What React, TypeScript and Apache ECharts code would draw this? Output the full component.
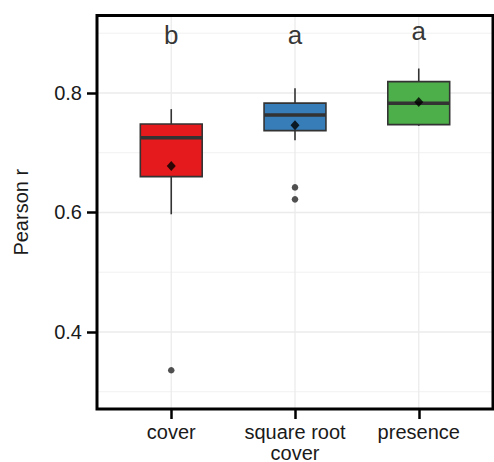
import React, { useEffect, useRef } from "react";
import * as echarts from "echarts";

const categories = ["cover", "square root\ncover", "presence"];
const boxMin = [0.597, 0.721, 0.745];
const boxQ1 = [0.66, 0.737, 0.747];
const boxMedian = [0.725, 0.763, 0.783];
const boxQ3 = [0.748, 0.783, 0.819];
const boxMax = [0.773, 0.808, 0.841];
const means = [0.678, 0.746, 0.785];
const outliers: [number, number][] = [
  [1, 0.336],
  [2, 0.642],
  [2, 0.622],
];
const letters = ["b", "a", "a"];
const letterY = [0.897, 0.897, 0.904];
const boxColors = ["#E41A1C", "#377EB8", "#4DAF4A"];
const yTicks = [0.4, 0.6, 0.8];
const yMinorGrid = [0.3, 0.5, 0.7, 0.9];
const xPositions = [1, 2, 3];

const Y_MIN = 0.2711;
const Y_MAX = 0.9297;
const X_MIN = 0.4;
const X_MAX = 3.6;

export default function App() {
  const ref = useRef<HTMLDivElement>(null);
  useEffect(() => {
    if (!ref.current) return;
    const chart = echarts.init(ref.current, null, { renderer: "svg" });

    const gridData: any[] = [
      ...yTicks.map((v) => [v, 0, 1.3]),
      ...yMinorGrid.map((v) => [v, 0, 0.7]),
      ...xPositions.map((v) => [v, 1, 1.3]),
    ];

    const boxData = xPositions.map((x, i) => [
      x,
      boxMin[i],
      boxQ1[i],
      boxMedian[i],
      boxQ3[i],
      boxMax[i],
      i,
    ]);

    const option: any = {
      animation: false,
      grid: {
        left: 97,
        right: 1,
        top: 15.5,
        bottom: 53,
        containLabel: false,
        outerBoundsMode: "none",
      },
      xAxis: {
        type: "value",
        min: X_MIN,
        max: X_MAX,
        axisLine: { show: false },
        splitLine: { show: false },
        axisTick: {
          show: true,
          customValues: xPositions,
          length: 10,
          lineStyle: { color: "#000", width: 2.5 },
        },
        axisLabel: {
          customValues: xPositions,
          formatter: (v: number) => categories[Math.round(v) - 1] ?? "",
          fontFamily: "Liberation Sans, Arial, sans-serif",
          fontSize: 20,
          lineHeight: 21,
          color: "#1a1a1a",
          margin: 12,
        },
      },
      yAxis: {
        type: "value",
        min: Y_MIN,
        max: Y_MAX,
        name: "Pearson r",
        nameLocation: "middle",
        nameGap: 66,
        nameTextStyle: {
          fontFamily: "Liberation Sans, Arial, sans-serif",
          fontSize: 20,
          color: "#1a1a1a",
        },
        axisLine: { show: false },
        splitLine: { show: false },
        axisTick: {
          show: true,
          customValues: yTicks,
          length: 10,
          lineStyle: { color: "#000", width: 2.5 },
        },
        axisLabel: {
          customValues: yTicks,
          formatter: (v: number) => v.toFixed(1),
          fontFamily: "Liberation Sans, Arial, sans-serif",
          fontSize: 20,
          color: "#1a1a1a",
          margin: 15,
        },
      },
      graphic: [
        {
          type: "rect",
          shape: { x: 97, y: 15.5, width: 396, height: 393.5 },
          style: { fill: "none", stroke: "#000", lineWidth: 3 },
          z: 100,
          silent: true,
        },
      ],
      series: [
        {
          type: "custom",
          z: 1,
          silent: true,
          data: gridData,
          renderItem: (params: any, api: any) => {
            const v = api.value(0);
            const dir = api.value(1);
            const w = api.value(2);
            let p1, p2;
            if (dir === 0) {
              p1 = api.coord([X_MIN, v]);
              p2 = api.coord([X_MAX, v]);
            } else {
              p1 = api.coord([v, Y_MIN]);
              p2 = api.coord([v, Y_MAX]);
            }
            return {
              type: "line",
              shape: { x1: p1[0], y1: p1[1], x2: p2[0], y2: p2[1] },
              style: { stroke: "#EBEBEB", lineWidth: w },
            };
          },
        },
        {
          type: "custom",
          z: 3,
          silent: true,
          data: boxData,
          renderItem: (params: any, api: any) => {
            const x = api.value(0);
            const idx = api.value(6);
            const half = api.size([0.25, 0])[0];
            const pMin = api.coord([x, api.value(1)]);
            const pQ1 = api.coord([x, api.value(2)]);
            const pMed = api.coord([x, api.value(3)]);
            const pQ3 = api.coord([x, api.value(4)]);
            const pMax = api.coord([x, api.value(5)]);
            const cx = pMed[0];
            const stroke = "#333333";
            return {
              type: "group",
              children: [
                {
                  type: "line",
                  shape: { x1: cx, y1: pQ3[1], x2: cx, y2: pMax[1] },
                  style: { stroke, lineWidth: 1.6 },
                },
                {
                  type: "line",
                  shape: { x1: cx, y1: pQ1[1], x2: cx, y2: pMin[1] },
                  style: { stroke, lineWidth: 1.6 },
                },
                {
                  type: "rect",
                  shape: {
                    x: cx - half,
                    y: pQ3[1],
                    width: half * 2,
                    height: pQ1[1] - pQ3[1],
                  },
                  style: { fill: boxColors[idx], stroke, lineWidth: 1.6 },
                },
                {
                  type: "line",
                  shape: { x1: cx - half, y1: pMed[1], x2: cx + half, y2: pMed[1] },
                  style: { stroke, lineWidth: 3.5 },
                },
              ],
            };
          },
        },
        {
          type: "scatter",
          z: 4,
          silent: true,
          symbol: "circle",
          symbolSize: 6.5,
          itemStyle: { color: "#262626" },
          data: outliers,
        },
        {
          type: "scatter",
          z: 5,
          silent: true,
          symbol: "diamond",
          symbolSize: [9, 10],
          itemStyle: { color: "#000" },
          data: xPositions.map((x, i) => [x, means[i]]),
        },
        {
          type: "scatter",
          z: 6,
          silent: true,
          symbolSize: 0,
          data: xPositions.map((x, i) => [x, letterY[i], letters[i]]),
          label: {
            show: true,
            position: "inside",
            formatter: (p: any) => p.value[2],
            fontFamily: "Liberation Sans, Arial, sans-serif",
            fontSize: 26,
            color: "#000",
          },
        },
      ],
    };
    chart.setOption(option);
    return () => chart.dispose();
  }, []);
  return (
    <div
      ref={ref}
      style={{ position: "absolute", left: 0, top: 0, width: 494, height: 462 }}
    />
  );
}
